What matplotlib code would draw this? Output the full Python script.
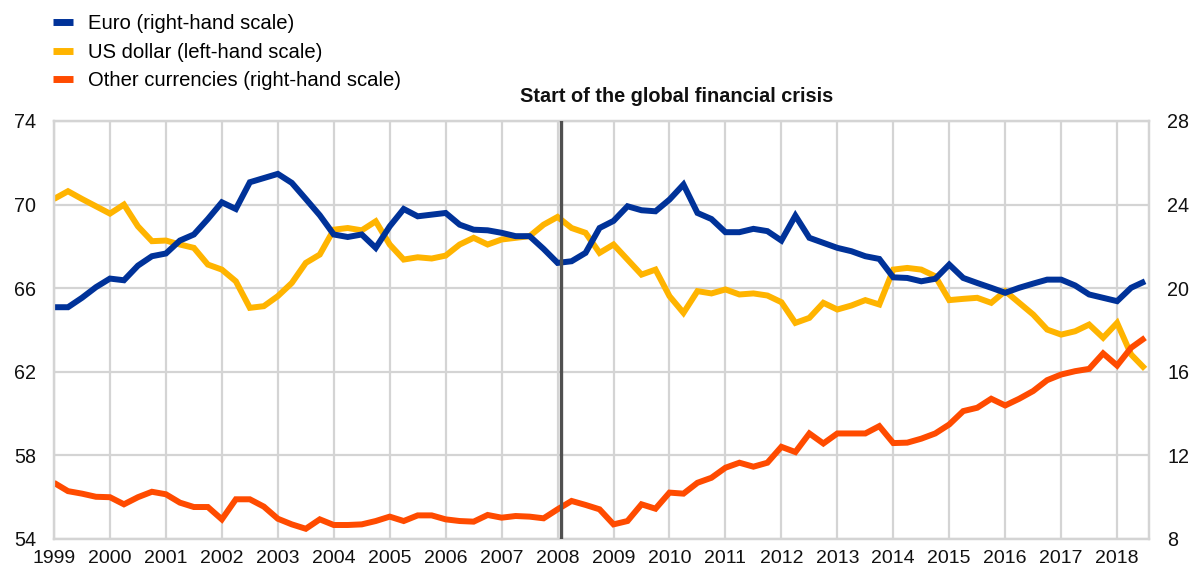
import matplotlib
matplotlib.use("Agg")
import matplotlib.pyplot as plt
import numpy as np

plt.rcParams['font.family'] = ['Liberation Sans', 'DejaVu Sans']

start_year = 1999.0
quarter_step = 0.25

# Euro share (right-hand scale)
euro = [19.09, 19.09, 19.54, 20.05, 20.46, 20.38, 21.08, 21.53, 21.66, 22.28,
        22.57, 23.31, 24.11, 23.79, 25.07, 25.27, 25.47, 25.04, 24.27, 23.49,
        22.57, 22.45, 22.57, 21.93, 22.96, 23.79, 23.44, 23.52, 23.60, 23.04,
        22.80, 22.77, 22.65, 22.49, 22.49, 21.88, 21.21, 21.29, 21.69, 22.88,
        23.22, 23.92, 23.73, 23.68, 24.24, 24.96, 23.60, 23.31, 22.68, 22.68,
        22.84, 22.73, 22.28, 23.47, 22.41, 22.17, 21.93, 21.77, 21.53, 21.40,
        20.52, 20.49, 20.33, 20.45, 21.13, 20.49, 20.25, 20.02, 19.78, 20.02,
        20.22, 20.41, 20.41, 20.13, 19.70, 19.54, 19.38, 20.02, 20.33]

# US dollar share (left-hand scale)
usd = [70.27, 70.64, 70.27, 69.92, 69.57, 70.00, 68.96, 68.25, 68.28, 68.09,
       67.93, 67.13, 66.89, 66.33, 65.06, 65.14, 65.62, 66.25, 67.21, 67.61,
       68.80, 68.88, 68.77, 69.20, 68.09, 67.37, 67.48, 67.42, 67.56, 68.09,
       68.41, 68.09, 68.33, 68.41, 68.49, 69.04, 69.41, 68.88, 68.65, 67.69,
       68.09, 67.37, 66.65, 66.89, 65.62, 64.82, 65.86, 65.75, 65.94, 65.70,
       65.75, 65.65, 65.33, 64.34, 64.58, 65.30, 64.98, 65.17, 65.43, 65.22,
       66.89, 66.97, 66.89, 66.57, 65.43, 65.49, 65.54, 65.30, 65.86, 65.30,
       64.74, 64.02, 63.78, 63.94, 64.26, 63.63, 64.34, 62.83, 62.14]

# Other currencies share (right-hand scale)
other = [10.69, 10.29, 10.17, 10.02, 10.00, 9.66, 10.00, 10.26, 10.14, 9.74,
         9.53, 9.53, 8.94, 9.90, 9.90, 9.55, 8.97, 8.70, 8.49, 8.94,
         8.67, 8.67, 8.70, 8.86, 9.07, 8.86, 9.13, 9.13, 8.94, 8.86,
         8.83, 9.15, 9.02, 9.10, 9.07, 8.99, 9.42, 9.82, 9.63, 9.42,
         8.70, 8.86, 9.66, 9.45, 10.22, 10.17, 10.69, 10.93, 11.41, 11.65,
         11.46, 11.65, 12.41, 12.16, 13.05, 12.57, 13.05, 13.05, 13.05, 13.40,
         12.59, 12.61, 12.80, 13.05, 13.48, 14.12, 14.28, 14.71, 14.39, 14.71,
         15.08, 15.60, 15.87, 16.03, 16.14, 16.88, 16.30, 17.15, 17.63]

years = list(range(1999, 2019))
left_ticks = [54, 58, 62, 66, 70, 74]
right_ticks = [8, 12, 16, 20, 24, 28]
crisis_x = 2008.07

labels = ["Euro (right-hand scale)", "US dollar (left-hand scale)",
          "Other currencies (right-hand scale)"]
colors = {"euro": "#003299", "usd": "#FFB400", "other": "#FF4B00"}

x = start_year + quarter_step * np.arange(len(usd))

fig = plt.figure(figsize=(11.92, 5.71), dpi=100)
ax = fig.add_axes([54/1192, 1 - 539/571, (1149-54)/1192, (539-121)/571])
ax2 = ax.twinx()

grid_c = "#d4d4d4"
ax.set_xlim(1999, 2018.57)
ax.set_ylim(54, 74)
ax2.set_ylim(8, 28)
ax.set_xticks(years)
ax.set_yticks(left_ticks)
ax2.set_yticks(right_ticks)
ax.grid(True, color=grid_c, linewidth=1.6)
ax.set_axisbelow(True)
for a in (ax, ax2):
    for s in a.spines.values():
        s.set_color(grid_c)
        s.set_linewidth(1.6)
    a.tick_params(length=0, labelsize=14.2, colors="#111111")
ax.tick_params(axis='y', pad=13)
ax2.tick_params(axis='y', pad=13)
ax.tick_params(axis='x', pad=8, labelsize=14.0)

lw = 4.3
l_usd, = ax.plot(x, usd, color=colors["usd"], lw=lw, solid_joinstyle='miter', solid_capstyle='butt')
l_eur, = ax2.plot(x, euro, color=colors["euro"], lw=lw, solid_joinstyle='miter', solid_capstyle='butt')
l_oth, = ax2.plot(x, other, color=colors["other"], lw=lw, solid_joinstyle='miter', solid_capstyle='butt')
ax2.axvline(crisis_x, color="#505050", lw=2.4, zorder=5)

fig.text(677/1192, 1 - 97/571, "Start of the global financial crisis",
         ha='center', va='center', fontsize=14.3, fontweight='bold', color="#111111")

leg = fig.legend([l_eur, l_usd, l_oth], labels, loc='upper left',
                 bbox_to_anchor=(53/1192, 1 - 14/571), frameon=False,
                 fontsize=14.6, handlelength=1.0, handletextpad=0.75,
                 labelspacing=0.48, borderaxespad=0, borderpad=0)
for h in leg.get_lines():
    h.set_linewidth(5)

fig.savefig("out.png", dpi=100)
